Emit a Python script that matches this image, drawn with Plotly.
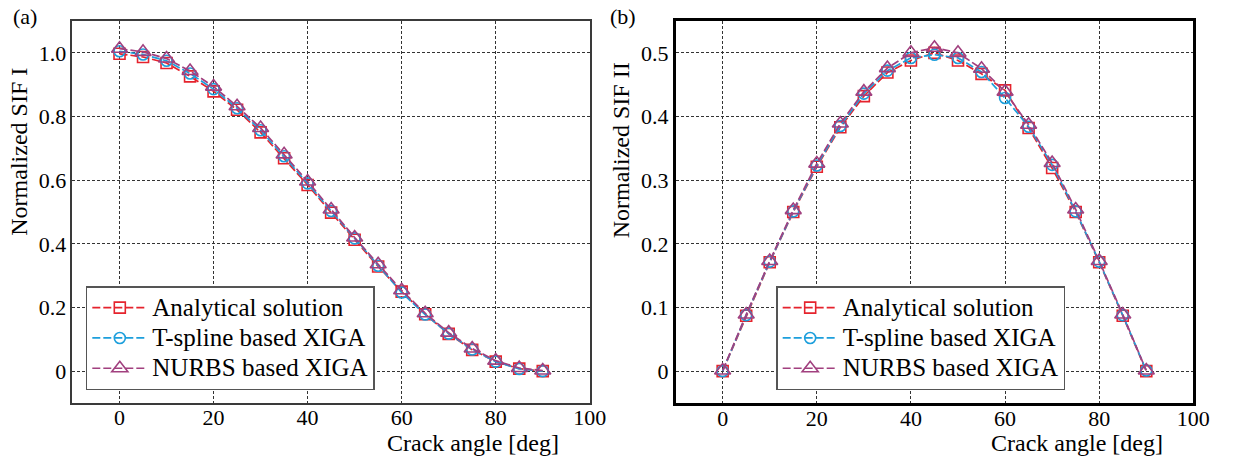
import plotly.graph_objects as go

# ---- data ----
crack_angle = [0, 5, 10, 15, 20, 25, 30, 35, 40, 45, 50, 55, 60, 65, 70, 75, 80, 85, 90]

analytical_I = [0.997, 0.987, 0.968, 0.926, 0.879, 0.821, 0.750, 0.669, 0.585, 0.498,
                0.413, 0.329, 0.250, 0.179, 0.117, 0.067, 0.030, 0.008, 0.000]
tspline_I = [1.005, 0.995, 0.975, 0.935, 0.886, 0.826, 0.757, 0.675, 0.590, 0.503,
             0.417, 0.331, 0.247, 0.178, 0.118, 0.068, 0.030, 0.007, 0.000]
nurbs_I = [1.013, 1.003, 0.982, 0.943, 0.894, 0.832, 0.764, 0.681, 0.596, 0.508,
           0.420, 0.336, 0.254, 0.182, 0.121, 0.071, 0.033, 0.010, 0.002]

analytical_II = [0.000, 0.087, 0.171, 0.250, 0.321, 0.383, 0.432, 0.469, 0.488, 0.500,
                 0.488, 0.467, 0.441, 0.382, 0.319, 0.250, 0.171, 0.087, 0.000]
tspline_II = [0.000, 0.088, 0.172, 0.251, 0.323, 0.385, 0.436, 0.472, 0.492, 0.497,
              0.492, 0.470, 0.429, 0.384, 0.324, 0.251, 0.172, 0.088, 0.001]
nurbs_II = [0.001, 0.089, 0.173, 0.253, 0.326, 0.389, 0.439, 0.476, 0.500, 0.508,
            0.500, 0.475, 0.439, 0.387, 0.327, 0.254, 0.173, 0.089, 0.001]

series_names = ["Analytical solution", "T-spline based XIGA", "NURBS based XIGA"]
x_ticks = [0, 20, 40, 60, 80, 100]
y_ticks_I = [0, 0.2, 0.4, 0.6, 0.8, 1.0]
y_text_I = ["0", "0.2", "0.4", "0.6", "0.8", "1.0"]
y_ticks_II = [0, 0.1, 0.2, 0.3, 0.4, 0.5]
y_text_II = ["0", "0.1", "0.2", "0.3", "0.4", "0.5"]

# ---- styles ----
W, H = 1236, 462
FONT = "Liberation Serif"
colors = ["#e5232d", "#1d9fdc", "#a1407f"]
symbols = ["square-open", "circle-open", "triangle-up-open"]
msizes = [11, 11, 14]
DASH = "8px,3px"

fig = go.Figure()

panels = [
    ("x", "y", "legend", [analytical_I, tspline_I, nurbs_I]),
    ("x2", "y2", "legend2", [analytical_II, tspline_II, nurbs_II]),
]
for xa, ya, lg, data in panels:
    for name, vals, c, s, ms in zip(series_names, data, colors, symbols, msizes):
        fig.add_trace(go.Scatter(
            x=crack_angle, y=vals, xaxis=xa, yaxis=ya, legend=lg,
            name='<span style="font-size:25px">' + name + "</span>",
            mode="lines+markers",
            line=dict(color=c, width=1.7, dash=DASH),
            marker=dict(symbol=s, size=ms, color=c, line=dict(color=c, width=1.6)),
        ))

def px_x(p):
    return p / W

def px_y(p):
    return 1 - p / H

grid = dict(showgrid=True, gridcolor="#333333", gridwidth=1, griddash="3px,2px",
            zeroline=False, ticks="", mirror=True, showline=True,
            tickfont=dict(family=FONT, size=22, color="black"))

ydom = [px_y(403), px_y(21)]
legend_style = dict(xanchor="left", yanchor="top", bgcolor="white",
                    bordercolor="#555555", borderwidth=1.5,
                    font=dict(family=FONT, size=21, color="black"),
                    itemwidth=55, tracegroupgap=0)
fig.update_layout(
    width=W, height=H, autosize=False,
    margin=dict(l=0, r=0, t=0, b=0),
    paper_bgcolor="white", plot_bgcolor="white",
    font=dict(family=FONT, size=22, color="black"),
    showlegend=True,
    xaxis=dict(domain=[px_x(73.5), px_x(598)], range=[-10, 100], tickvals=x_ticks,
               anchor="y", linecolor="#3a3a3a", linewidth=1.6, ticklabelstandoff=-6, **grid),
    yaxis=dict(domain=ydom, range=[-0.1, 1.1], tickvals=y_ticks_I, ticktext=y_text_I,
               anchor="x", linecolor="#3a3a3a", linewidth=1.6, ticklabelstandoff=0, **grid),
    xaxis2=dict(domain=[px_x(685), px_x(1210)], range=[-10, 100], tickvals=x_ticks,
                anchor="y2", linecolor="black", linewidth=2.6, ticklabelstandoff=-6, **grid),
    yaxis2=dict(domain=ydom, range=[-0.05, 0.55], tickvals=y_ticks_II, ticktext=y_text_II,
                anchor="x2", linecolor="black", linewidth=2.6, ticklabelstandoff=0, **grid),
    legend=dict(x=px_x(87), y=px_y(286), **legend_style),
    legend2=dict(x=px_x(787), y=px_y(286), **legend_style),
)

annots = [
    dict(text="(a)", x=px_x(25), y=px_y(16), size=22, angle=0),
    dict(text="(b)", x=px_x(632), y=px_y(16), size=22, angle=0),
    dict(text="Normalized SIF I", x=px_x(19), y=px_y(152), size=24, angle=-90),
    dict(text="Normalized SIF II", x=px_x(630), y=px_y(150), size=24, angle=-90),
    dict(text="Crack angle [deg]", x=px_x(480), y=px_y(443), size=24, angle=0),
    dict(text="Crack angle [deg]", x=px_x(1092), y=px_y(443), size=24, angle=0),
]
for a in annots:
    fig.add_annotation(text=a["text"], x=a["x"], y=a["y"], xref="paper", yref="paper",
                       xanchor="center", yanchor="middle", showarrow=False,
                       textangle=a["angle"],
                       font=dict(family=FONT, size=a["size"], color="black"))

fig.write_html("out.html", config={"displayModeBar": False},
               post_script="document.body.style.margin='0px';")
